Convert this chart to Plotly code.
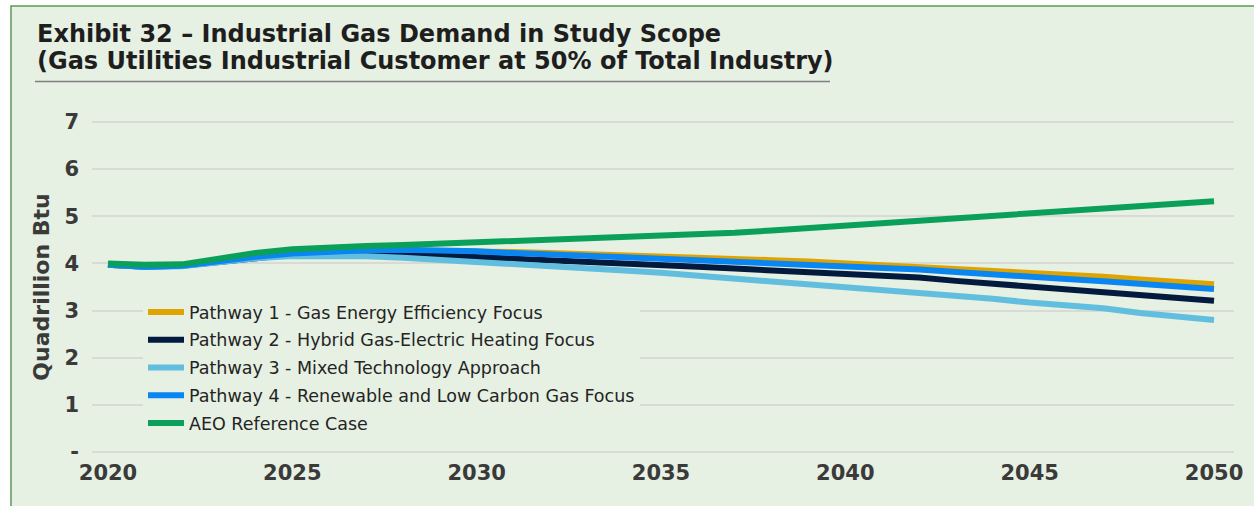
import plotly.graph_objects as go

# Industrial gas demand in study scope, quadrillion Btu, 2020-2050
years = list(range(2020, 2051))

pathway1 = [3.98, 3.94, 3.95, 4.05, 4.14, 4.20, 4.24, 4.26, 4.27, 4.27,
            4.26, 4.24, 4.22, 4.20, 4.18, 4.15, 4.13, 4.10, 4.07, 4.04,
            4.00, 3.97, 3.94, 3.90, 3.85, 3.80, 3.76, 3.72, 3.66, 3.61, 3.56]
pathway2 = [3.97, 3.93, 3.95, 4.04, 4.13, 4.19, 4.21, 4.21, 4.19, 4.17,
            4.14, 4.10, 4.06, 4.02, 3.99, 3.96, 3.93, 3.89, 3.85, 3.82,
            3.79, 3.74, 3.70, 3.63, 3.57, 3.51, 3.46, 3.40, 3.33, 3.27, 3.21]
pathway3 = [3.97, 3.93, 3.94, 4.03, 4.11, 4.16, 4.17, 4.15, 4.12, 4.08,
            4.04, 4.00, 3.95, 3.89, 3.85, 3.80, 3.74, 3.69, 3.63, 3.58,
            3.51, 3.45, 3.40, 3.34, 3.25, 3.17, 3.12, 3.05, 2.95, 2.87, 2.80]
pathway4 = [3.97, 3.93, 3.95, 4.05, 4.14, 4.21, 4.25, 4.28, 4.29, 4.29,
            4.26, 4.22, 4.18, 4.15, 4.13, 4.10, 4.07, 4.04, 4.01, 3.98,
            3.95, 3.91, 3.87, 3.82, 3.76, 3.72, 3.67, 3.62, 3.56, 3.51, 3.46]
aeo_reference = [4.00, 3.97, 3.98, 4.10, 4.22, 4.30, 4.35, 4.37, 4.39, 4.42,
                 4.44, 4.47, 4.49, 4.51, 4.55, 4.58, 4.61, 4.65, 4.70, 4.75,
                 4.79, 4.84, 4.89, 4.95, 5.00, 5.05, 5.10, 5.15, 5.20, 5.26, 5.32]

series_names = [
    "Pathway 1 - Gas Energy Efficiency Focus",
    "Pathway 2 - Hybrid Gas-Electric Heating Focus",
    "Pathway 3 - Mixed Technology Approach",
    "Pathway 4 - Renewable and Low Carbon Gas Focus",
    "AEO Reference Case",
]
series_values = [pathway1, pathway2, pathway3, pathway4, aeo_reference]
series_colors = ["#E0A400", "#021A3E", "#62BEDF", "#0A86F2", "#0BA05A"]

x_ticks = [2020, 2025, 2030, 2035, 2040, 2045, 2050]
y_ticks = [0, 1, 2, 3, 4, 5, 6, 7]
y_tick_text = ["-", "1", "2", "3", "4", "5", "6", "7"]

title_lines = [
    "Exhibit 32 – Industrial Gas Demand in Study Scope",
    "(Gas Utilities Industrial Customer at 50% of Total Industry)",
]

BG = "#E6F0E3"
W, H = 1254, 506
ML, MR, MT, MB = 92, 20, 120, 52
PW, PH = W - ML - MR, H - MT - MB


def px_x(px):
    return (px - ML) / PW


def px_y(py):
    return (H - MB - py) / PH


fig = go.Figure()
for i, (name, vals, col) in enumerate(zip(series_names, series_values, series_colors)):
    fig.add_trace(go.Scatter(
        x=years, y=vals, mode="lines", name=name,
        legendgroup=f"g{i}",
        line=dict(color=col, width=6),
        hoverinfo="skip",
    ))

tick_font = dict(family="DejaVu Sans", size=21, color="#3A3A3A", weight="bold")
title_font = dict(family="DejaVu Sans", size=24, color="#1E1E1E", weight="bold")

# heading: two lines set 27 px apart
heading = [
    dict(text=line, xref="paper", yref="paper",
         x=px_x(35), y=px_y(34 + 27 * k), xanchor="left", yanchor="middle",
         align="left", showarrow=False, font=title_font)
    for k, line in enumerate(title_lines)
]

fig.update_layout(
    width=W, height=H,
    margin=dict(l=ML, r=MR, t=MT, b=MB),
    paper_bgcolor="white",
    plot_bgcolor=BG,
    showlegend=True,
    legend=dict(
        x=px_x(143), y=px_y(294), xanchor="left", yanchor="top",
        bgcolor=BG, borderwidth=0,
        font=dict(family="DejaVu Sans", size=17.5, color="#242424"),
        tracegroupgap=2, itemwidth=36,
    ),
    xaxis=dict(
        range=[2020 - 16 / 36.9, 2050 + 20 / 36.9],
        tickvals=x_ticks, ticks="", showgrid=False, zeroline=False,
        showline=False, tickfont=tick_font, ticklabelstandoff=4,
    ),
    yaxis=dict(
        range=[-2 / 47.14, 7 + 2 / 47.14],
        tickvals=y_ticks, ticktext=y_tick_text, ticks="",
        showgrid=True, gridcolor="#D8DAD6", gridwidth=1.5,
        zeroline=False, showline=False, tickfont=tick_font,
        ticklabelstandoff=12,
        title=dict(text="Quadrillion Btu", standoff=8,
                   font=dict(family="DejaVu Sans", size=22, color="#3A3A3A", weight="bold")),
    ),
    annotations=heading,
    shapes=[
        # framed panel
        dict(type="rect", xref="paper", yref="paper", layer="below",
             x0=px_x(11), x1=px_x(W + 10), y0=px_y(H + 10), y1=px_y(6),
             fillcolor=BG, line=dict(color="#5B9A5B", width=1.5)),
        # rule under the heading
        dict(type="line", xref="paper", yref="paper",
             x0=px_x(35), x1=px_x(830), y0=px_y(81.5), y1=px_y(81.5),
             line=dict(color="#7F7F7F", width=1.5)),
    ],
)

fig.write_html("out.html")
